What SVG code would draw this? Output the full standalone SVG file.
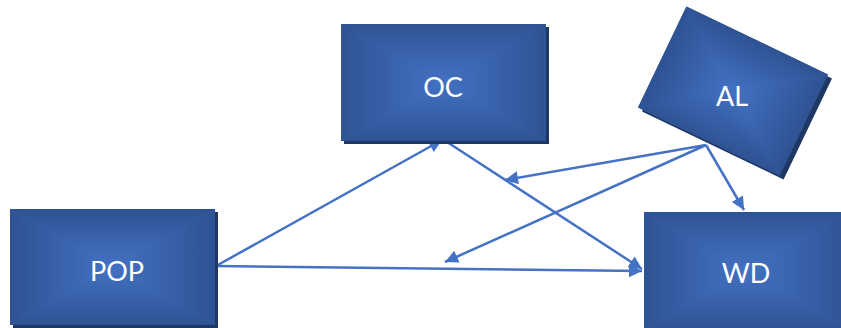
<svg xmlns="http://www.w3.org/2000/svg" xmlns:xlink="http://www.w3.org/1999/xlink" width="841" height="328" viewBox="0 0 841 328">
  <style>
    .shadow { fill: #1f3763; }
    .label { font-family: Lato, "Open Sans", "Liberation Sans", sans-serif; font-size: 27px; fill: #ffffff; text-anchor: middle; }
    .link { stroke: #4472c4; stroke-width: 2.5; fill: none; marker-end: url(#head); }
  </style>
  <defs>
    <!-- frame-style fill: dark edges fading to a lighter centre -->
    <linearGradient id="gTop" x1="0" y1="0" x2="0" y2="1"><stop offset="0" stop-color="#2e5394"/><stop offset="1" stop-color="#4371c2"/></linearGradient>
    <linearGradient id="gBot" x1="0" y1="1" x2="0" y2="0"><stop offset="0" stop-color="#2e5394"/><stop offset="1" stop-color="#4371c2"/></linearGradient>
    <linearGradient id="gLft" x1="0" y1="0" x2="1" y2="0"><stop offset="0" stop-color="#2e5394"/><stop offset="1" stop-color="#4371c2"/></linearGradient>
    <linearGradient id="gRgt" x1="1" y1="0" x2="0" y2="0"><stop offset="0" stop-color="#2e5394"/><stop offset="1" stop-color="#4371c2"/></linearGradient>
    <g id="tile">
      <rect x="0" y="0" width="100" height="100" fill="#3a63ad"/>
      <polygon points="0,0 100,0 50,50" fill="url(#gTop)"/>
      <polygon points="0,100 100,100 50,50" fill="url(#gBot)"/>
      <polygon points="0,0 0,100 50,50" fill="url(#gLft)"/>
      <polygon points="100,0 100,100 50,50" fill="url(#gRgt)"/>
    </g>
    <marker id="head" viewBox="0 0 10 10" refX="10" refY="5" markerWidth="15" markerHeight="13" markerUnits="userSpaceOnUse" orient="auto">
      <path d="M0,0 L10,5 L0,10 Z" fill="#4472c4"/>
    </marker>
  </defs>

  <g id="connectors">
    <line class="link" x1="216" y1="266" x2="442" y2="140"/>
    <line class="link" x1="444" y1="140" x2="642" y2="269"/>
    <line class="link" x1="216" y1="266" x2="642" y2="271"/>
    <line class="link" x1="706" y1="145" x2="505" y2="180"/>
    <line class="link" x1="706" y1="145" x2="445" y2="262"/>
    <line class="link" x1="706" y1="145" x2="744" y2="210"/>
  </g>

  <g id="node-oc">
    <rect class="shadow" x="344" y="27" width="205" height="117"/>
    <use xlink:href="#tile" transform="translate(341,24) scale(2.05,1.17)"/>
    <text class="label" x="443" y="97">OC</text>
  </g>

  <g id="node-pop">
    <rect class="shadow" x="13" y="212" width="205" height="116"/>
    <use xlink:href="#tile" transform="translate(10,209) scale(2.05,1.16)"/>
    <text class="label" x="117" y="281">POP</text>
  </g>

  <g id="node-wd">
    <rect class="shadow" x="647" y="215" width="205" height="117"/>
    <use xlink:href="#tile" transform="translate(644,212) scale(2.05,1.17)"/>
    <text class="label" x="746" y="283">WD</text>
  </g>

  <g id="node-al">
    <g transform="translate(737,95) rotate(25.6)">
      <rect class="shadow" x="-78.5" y="-56" width="157" height="112"/>
    </g>
    <g transform="translate(733,91) rotate(25.6)">
      <use xlink:href="#tile" transform="translate(-78.5,-56) scale(1.57,1.12)"/>
    </g>
    <text class="label" x="732" y="106">AL</text>
  </g>
</svg>
